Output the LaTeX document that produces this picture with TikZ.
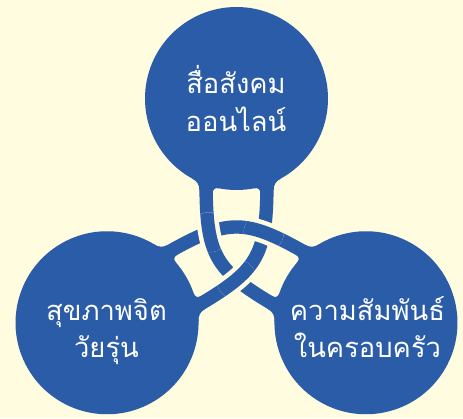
\documentclass[tikz,border=0pt]{standalone}
\usepackage{fontspec}
\usepackage{tikz}
\newfontfamily\thaifont[Script=Thai]{Loma}
\definecolor{knotblue}{HTML}{2A5CA8}
\definecolor{paper}{HTML}{FFFCE0}

\begin{document}
\begin{tikzpicture}[x=0.75pt, y=0.75pt,
  band/.style={draw=knotblue, line width=10.05pt},
  halo/.style={draw=paper, line width=16.8pt},
  thaitext/.style={font=\thaifont\fontsize{20.5}{25}\selectfont, text=white, anchor=base, inner sep=0pt}]
\fill[paper] (-236.5,-170) rectangle (226.5,248);
\useasboundingbox (-236.5,-170) rectangle (226.5,248);
% circles and the fillets where the strands leave them
\foreach \r in {0,120,240}{
  \begin{scope}[rotate=\r]
    \fill[knotblue] (0,149.5) circle (91.5);
    \foreach \s in {1,-1}{
      \begin{scope}[xscale=\s]
        \fill[knotblue] (-44.27,69.42) .. controls (-39.49,67.05) and (-37.1,63.19) .. (-37.1,57.86) -- (-34,57.86) -- (-34,72) -- cycle;
        \fill[knotblue] (-17.08,59.61) .. controls (-21.63,60.66) and (-23.9,58.85) .. (-23.9,54.18) -- (-27,54.18) -- (-27,64) -- cycle;
      \end{scope}
    }
  \end{scope}
}
% the three strands
\foreach \r in {0,120,240}
  \draw[band, rotate=\r] (-30.5,70) .. controls (-30.5,-9) and (-23.04,-21.91) .. (45.37,-61.41);
% over-crossings
\foreach \r in {0,120,240}{
  \begin{scope}[rotate=\r]
    \clip (-27.3,15.75) circle (20);
    \draw[halo] (-30.5,70) .. controls (-30.5,-9) and (-23.04,-21.91) .. (45.37,-61.41);
    \draw[band] (-30.5,70) .. controls (-30.5,-9) and (-23.04,-21.91) .. (45.37,-61.41);
  \end{scope}
}
\node[thaitext] (social1) at (-0.5,154) {สื่อสังคม};
\node[thaitext] (social2) at (-0.5,116.5) {ออนไลน์};
\node[thaitext] (mental1) at (-130,-72) {สุขภาพจิต};
\node[thaitext] (mental2) at (-130,-109) {วัยรุ่น};
\node[thaitext] (family1) at (131,-72) {ความสัมพันธ์};
\node[thaitext] (family2) at (131,-109) {ในครอบครัว};
\end{tikzpicture}
\end{document}
